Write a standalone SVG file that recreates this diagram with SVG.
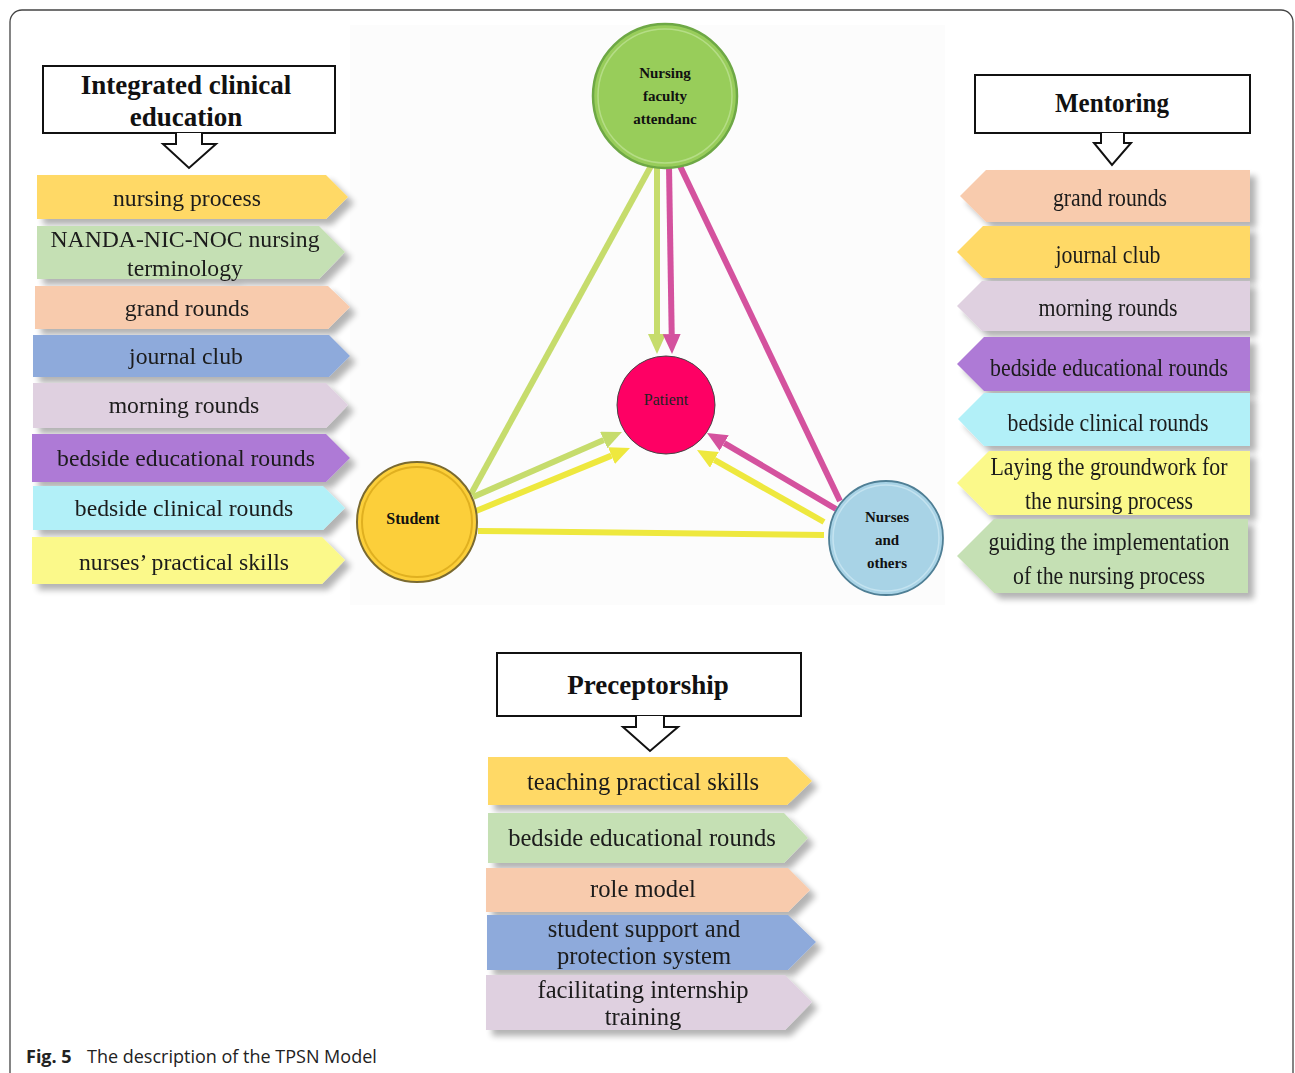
<svg xmlns="http://www.w3.org/2000/svg" width="1295" height="1073" viewBox="0 0 1295 1073">
<defs>
<style>
.it{font-family:"Liberation Serif","Times New Roman",serif;font-size:23.7px;fill:#1a1a1a;text-anchor:middle}
.rt{font-family:"Liberation Serif","Times New Roman",serif;font-size:25px;fill:#1a1a1a;text-anchor:middle}
.bt{font-family:"Liberation Serif","Times New Roman",serif;font-size:24.6px;fill:#1a1a1a;text-anchor:middle}
.hd{font-family:"Liberation Serif","Times New Roman",serif;font-weight:bold;font-size:27px;fill:#111;text-anchor:middle}
.hbox{fill:#fff;stroke:#111;stroke-width:2}
.nd{font-family:"Liberation Serif","Times New Roman",serif;font-weight:bold;fill:#111;text-anchor:middle}
.tag{filter:url(#sh)}
.yel{fill:#ffd966}.grn{fill:#c5e0b4}.pch{fill:#f8cbad}.blu{fill:#8eaadb}.lav{fill:#dfd0e0}.pur{fill:#ae7ad6}.cyn{fill:#b2f0f8}.lyl{fill:#fbf98a}
.lg{stroke:#c6dc6c;stroke-width:6;fill:none}
.lm{stroke:#d4529e;stroke-width:6;fill:none}
.ly{stroke:#eee83e;stroke-width:6;fill:none}
</style>
<filter id="sh" x="-5%" y="-20%" width="115%" height="150%">
<feGaussianBlur in="SourceAlpha" stdDeviation="3"/>
<feOffset dx="6" dy="6" result="b"/>
<feComponentTransfer><feFuncA type="linear" slope="0.3"/></feComponentTransfer>
<feMerge><feMergeNode/><feMergeNode in="SourceGraphic"/></feMerge>
</filter>
<marker id="ag" viewBox="0 -9 20 18" refX="0" refY="0" markerWidth="20" markerHeight="18" markerUnits="userSpaceOnUse" orient="auto"><path d="M0,-9 L20,0 L0,9 z" fill="#c6dc6c"/></marker>
<marker id="am" viewBox="0 -9 20 18" refX="0" refY="0" markerWidth="20" markerHeight="18" markerUnits="userSpaceOnUse" orient="auto"><path d="M0,-9 L20,0 L0,9 z" fill="#d4529e"/></marker>
<marker id="ay" viewBox="0 -9 20 18" refX="0" refY="0" markerWidth="20" markerHeight="18" markerUnits="userSpaceOnUse" orient="auto"><path d="M0,-9 L20,0 L0,9 z" fill="#eee83e"/></marker>
</defs>
<rect x="0" y="0" width="1295" height="1073" fill="#fff"/>
<rect x="10" y="10" width="1283" height="1090" rx="12" fill="#fff" stroke="#444" stroke-width="1.3"/>
<rect x="350" y="25" width="595" height="580" fill="#fcfcfc"/>

<g id="integrated-header">
<rect class="hbox" x="43" y="66" width="292" height="67"/>
<text class="hd" x="186" y="94">Integrated clinical</text>
<text class="hd" x="186" y="126">education</text>
<path class="hbox" d="M176,133 V144 H163 L189,168 L216,144 H202 V133"/>
</g>
<g id="integrated-items">
<g class="tag"><polygon class="yel" points="37,175 326,175 348,197 326,219 37,219"/><text class="it" x="187" y="206">nursing process</text></g>
<g class="tag"><polygon class="grn" points="37,226 319,226 345,252 319,279 37,279"/><text class="it" x="185" y="247">NANDA-NIC-NOC nursing</text><text class="it" x="185" y="276">terminology</text></g>
<g class="tag"><polygon class="pch" points="35,286 328,286 350,307 328,329 35,329"/><text class="it" x="187" y="316">grand rounds</text></g>
<g class="tag"><polygon class="blu" points="33,335 329,335 350,356 329,377 33,377"/><text class="it" x="186" y="364">journal club</text></g>
<g class="tag"><polygon class="lav" points="33,383 326,383 348,405 326,428 33,428"/><text class="it" x="184" y="413">morning rounds</text></g>
<g class="tag"><polygon class="pur" points="32,434 326,434 350,458 326,482 32,482"/><text class="it" x="186" y="466">bedside educational rounds</text></g>
<g class="tag"><polygon class="cyn" points="33,486 323,486 345,508 323,530 33,530"/><text class="it" x="184" y="516">bedside clinical rounds</text></g>
<g class="tag"><polygon class="lyl" points="32,537 322,537 345,560 322,584 32,584"/><text class="it" x="184" y="570">nurses’ practical skills</text></g>
</g>

<g id="mentoring-header">
<rect class="hbox" x="975" y="75" width="275" height="58"/>
<text class="hd" x="1112" y="112" font-size="30" textLength="114" lengthAdjust="spacingAndGlyphs">Mentoring</text>
<path class="hbox" d="M1101,133 V143 H1094 L1112,165 L1131,143 H1124 V133"/>
</g>
<g id="mentoring-items">
<g class="tag"><polygon class="pch" points="1250,170 986,170 960,196 986,222 1250,222"/><text class="rt" x="1110" y="206" textLength="114" lengthAdjust="spacingAndGlyphs">grand rounds</text></g>
<g class="tag"><polygon class="yel" points="1250,226 983,226 957,252 983,278 1250,278"/><text class="rt" x="1108" y="263" textLength="105" lengthAdjust="spacingAndGlyphs">journal club</text></g>
<g class="tag"><polygon class="lav" points="1250,281 982,281 957,306 982,331 1250,331"/><text class="rt" x="1108" y="316" textLength="139" lengthAdjust="spacingAndGlyphs">morning rounds</text></g>
<g class="tag"><polygon class="pur" points="1250,337 984,337 957,364 984,391 1250,391"/><text class="rt" x="1109" y="376" textLength="238" lengthAdjust="spacingAndGlyphs">bedside educational rounds</text></g>
<g class="tag"><polygon class="cyn" points="1250,393 984,393 958,419 984,446 1250,446"/><text class="rt" x="1108" y="431" textLength="201" lengthAdjust="spacingAndGlyphs">bedside clinical rounds</text></g>
<g class="tag"><polygon class="lyl" points="1250,451 989,451 957,483 989,515 1250,515"/><text class="rt" x="1109" y="475" textLength="237" lengthAdjust="spacingAndGlyphs">Laying the groundwork for</text><text class="rt" x="1109" y="509" textLength="168" lengthAdjust="spacingAndGlyphs">the nursing process</text></g>
<g class="tag"><polygon class="grn" points="1248,519 994,519 957,556 994,593 1248,593"/><text class="rt" x="1109" y="550" textLength="241" lengthAdjust="spacingAndGlyphs">guiding the implementation</text><text class="rt" x="1109" y="584" textLength="192" lengthAdjust="spacingAndGlyphs">of the nursing process</text></g>
</g>

<g id="connectors">
<line class="lg" x1="651" y1="166" x2="471" y2="494"/>
<line class="lm" x1="680" y1="166" x2="840" y2="501"/>
<line class="ly" x1="478" y1="531" x2="824" y2="535"/>
<line class="lg" x1="657" y1="166" x2="657" y2="334" marker-end="url(#ag)"/>
<line class="lm" x1="669" y1="166" x2="671.7" y2="334" marker-end="url(#am)"/>
<line class="lg" x1="473" y1="497" x2="603.7" y2="440" marker-end="url(#ag)"/>
<line class="ly" x1="476" y1="511" x2="611.5" y2="455.6" marker-end="url(#ay)"/>
<line class="ly" x1="824" y1="522" x2="714.4" y2="459.9" marker-end="url(#ay)"/>
<line class="lm" x1="836" y1="509" x2="724.2" y2="443.1" marker-end="url(#am)"/>
</g>

<g id="node-faculty">
<circle cx="665" cy="96" r="72" fill="#98cd5a" stroke="#6ea845" stroke-width="2.5"/>
<circle cx="665" cy="96" r="67" fill="none" stroke="#b5dd86" stroke-width="1.5"/>
<text class="nd" x="665" y="78" font-size="15">Nursing</text>
<text class="nd" x="665" y="101" font-size="15">faculty</text>
<text class="nd" x="665" y="124" font-size="15">attendanc</text>
</g>
<g id="node-patient">
<circle cx="666" cy="405" r="49" fill="#fe0064" stroke="#444" stroke-width="1"/>
<text x="666" y="405" font-family="Liberation Serif, serif" font-size="16" fill="#222" text-anchor="middle">Patient</text>
</g>
<g id="node-student">
<circle cx="417" cy="522" r="60" fill="#fccf3a" stroke="#7a6a30" stroke-width="2"/>
<circle cx="417" cy="522" r="55" fill="none" stroke="#e0b020" stroke-width="2"/>
<text class="nd" x="413" y="524" font-size="16">Student</text>
</g>
<g id="node-nurses">
<circle cx="886" cy="538" r="57" fill="#a8d3e6" stroke="#4f7f95" stroke-width="1.8"/>
<circle cx="886" cy="538" r="53" fill="none" stroke="#c4e3f0" stroke-width="1.5"/>
<text class="nd" x="887" y="522" font-size="15">Nurses</text>
<text class="nd" x="887" y="545" font-size="15">and</text>
<text class="nd" x="887" y="568" font-size="15">others</text>
</g>

<g id="preceptorship-header">
<rect class="hbox" x="497" y="653" width="304" height="63"/>
<text class="hd" x="648" y="694" font-size="28.5">Preceptorship</text>
<path class="hbox" d="M636,716 V727 H623 L650,751 L678,727 H664 V716"/>
</g>
<g id="preceptorship-items">
<g class="tag"><polygon class="yel" points="488,757 787,757 812,781 787,805 488,805"/><text class="bt" x="643" y="790">teaching practical skills</text></g>
<g class="tag"><polygon class="grn" points="488,813 784,813 808,838 784,863 488,863"/><text class="bt" x="642" y="846">bedside educational rounds</text></g>
<g class="tag"><polygon class="pch" points="486,868 788,868 810,890 788,912 486,912"/><text class="bt" x="643" y="897">role model</text></g>
<g class="tag"><polygon class="blu" points="487,915 788,915 816,942 788,970 487,970"/><text class="bt" x="644" y="937">student support and</text><text class="bt" x="644" y="964">protection system</text></g>
<g class="tag"><polygon class="lav" points="486,975 785,975 812,1002 785,1030 486,1030"/><text class="bt" x="643" y="998">facilitating internship</text><text class="bt" x="643" y="1025">training</text></g>
</g>

<text x="26" y="1063" font-family="Open Sans, Liberation Sans, sans-serif" font-size="18" fill="#222"><tspan font-weight="bold">Fig. 5</tspan><tspan x="87">The description of the TPSN Model</tspan></text>
</svg>
